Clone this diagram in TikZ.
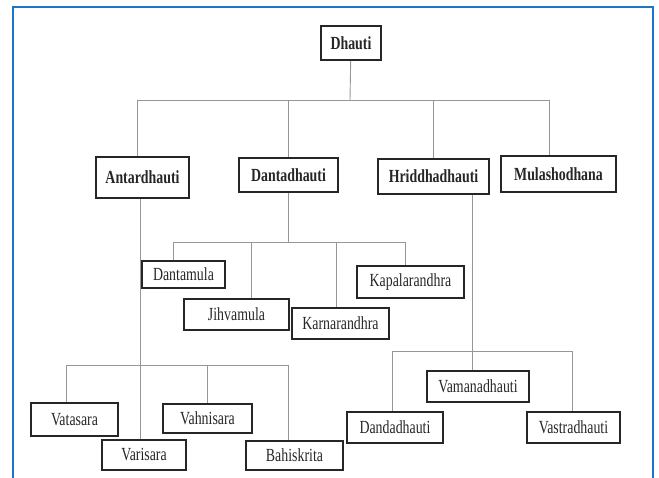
\documentclass[tikz,border=0pt]{standalone}
\usepackage{fontspec}
\setmainfont{Liberation Serif}[FakeStretch=0.75]
\usepackage{xcolor}
\usepackage{tikz}
\definecolor{framblue}{RGB}{28,117,200}
\definecolor{linkgray}{RGB}{150,150,150}

\begin{document}
\begin{tikzpicture}[x=1pt,y=-1pt,
        box/.style={draw=black!85,line width=1.3pt,inner sep=0pt,text=black!85,font=\fontsize{18.5}{20}\selectfont},
        heavybox/.style={box,line width=2pt},
        headbox/.style={heavybox,font=\fontsize{18.5}{20}\selectfont\bfseries},
        link/.style={draw=linkgray,line width=0.9pt}]
            \useasboundingbox (0,0) rectangle (659,477);
            \draw[framblue,line width=2pt] (13,478) -- (13,7) -- (653,7) -- (653,478);
            \node[headbox,minimum width=60,minimum height=34] (dhauti) at (351,43) {Dhauti};
            \node[headbox,minimum width=93,minimum height=41] (antar) at (142.5,177.5) {Antardhauti};
            \node[headbox,minimum width=99,minimum height=34] (danta) at (288.5,175) {Dantadhauti};
            \node[headbox,minimum width=111,minimum height=35] (hrid) at (433.5,176.5) {Hriddhadhauti};
            \node[headbox,minimum width=115,minimum height=36] (mula) at (558.5,174) {Mulashodhana};
            \node[box,minimum width=83,minimum height=27] (dmula) at (183.5,274.5) {Dantamula};
            \node[heavybox,minimum width=105,minimum height=31] (jihva) at (236.5,314.5) {Jihvamula};
            \node[box,minimum width=97,minimum height=31] (karna) at (340.5,323.5) {Karnarandhra};
            \node[heavybox,minimum width=107,minimum height=32] (kapal) at (410.5,282) {Kapalarandhra};
            \node[box,minimum width=87,minimum height=33] (vata) at (74.5,419.5) {Vatasara};
            \node[box,minimum width=84,minimum height=30] (vari) at (144,455) {Varisara};
            \node[heavybox,minimum width=89,minimum height=29] (vahni) at (207.5,418.5) {Vahnisara};
            \node[box,minimum width=97,minimum height=29] (bahis) at (294.5,455.5) {Bahiskrita};
            \node[heavybox,minimum width=102,minimum height=31] (vamana) at (478,386.5) {Vamanadhauti};
            \node[box,minimum width=96,minimum height=31] (danda) at (395,427.5) {Dandadhauti};
            \node[heavybox,minimum width=93,minimum height=31] (vastra) at (573.5,427.5) {Vastradhauti};
            \coordinate (t1) at (137,100);
            \coordinate (t2) at (350,100);
            \coordinate (t3) at (549,100);
            \draw[link] (dhauti) -- (t2);
            \draw[link] (t1) -- (t3);
            \draw[link] (t1) -- (t1 |- antar.north);
            \draw[link] (danta.north |- t1) -- (danta.north);
            \draw[link] (hrid.north |- t1) -- (hrid.north);
            \draw[link] (t3) -- (t3 |- mula.north);
            \coordinate (d1) at (173,242);
            \coordinate (d2) at (251,242);
            \coordinate (d3) at (336,242);
            \coordinate (d4) at (405,242);
            \draw[link] (danta) -- (danta |- d1);
            \draw[link] (d1) -- (d4);
            \draw[link] (d1) -- (d1 |- dmula.north);
            \draw[link] (d2) -- (d2 |- jihva.north);
            \draw[link] (d3) -- (d3 |- karna.north);
            \draw[link] (d4) -- (d4 |- kapal.north);
            \coordinate (a1) at (66,365);
            \coordinate (a2) at (140,365);
            \coordinate (a3) at (207,365);
            \coordinate (a4) at (288,365);
            \draw[link] (a2 |- antar.south) -- (a2 |- vari.north);
            \draw[link] (a1) -- (a4);
            \draw[link] (a1) -- (a1 |- vata.north);
            \draw[link] (a3) -- (a3 |- vahni.north);
            \draw[link] (a4) -- (a4 |- bahis.north);
            \coordinate (h1) at (392,351);
            \coordinate (h2) at (472,351);
            \coordinate (h3) at (572,351);
            \draw[link] (h2 |- hrid.south) -- (h2 |- vamana.north);
            \draw[link] (h1) -- (h3);
            \draw[link] (h1) -- (h1 |- danda.north);
            \draw[link] (h3) -- (h3 |- vastra.north);
        \end{tikzpicture}
\end{document}
